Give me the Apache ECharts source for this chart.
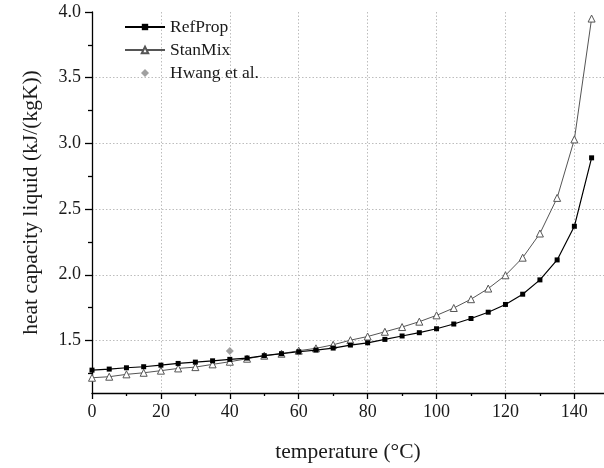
<!DOCTYPE html>
<html>
<head>
<meta charset="utf-8">
<script src="https://cdn.jsdelivr.net/npm/echarts@6/dist/echarts.min.js"></script>
<style>html,body{margin:0;padding:0;background:#fff;}#c{width:604px;height:468px;}</style>
</head>
<body>
<div id="c"></div>
<script>
const temperatures = [0,5,10,15,20,25,30,35,40,45,50,55,60,65,70,75,80,85,90,95,100,105,110,115,120,125,130,135,140,145];
const refProp = [1.274,1.282,1.292,1.300,1.312,1.325,1.335,1.345,1.356,1.366,1.384,1.399,1.414,1.427,1.442,1.465,1.482,1.508,1.534,1.559,1.589,1.625,1.667,1.715,1.774,1.852,1.961,2.113,2.369,2.890];
const stanMix = [1.216,1.224,1.242,1.254,1.270,1.287,1.297,1.318,1.338,1.361,1.384,1.399,1.422,1.440,1.467,1.502,1.530,1.566,1.602,1.643,1.691,1.747,1.814,1.895,1.996,2.130,2.314,2.585,3.030,3.950];
const hwangT = [40];
const hwangCp = [1.42];
const xTicks = [0,20,40,60,80,100,120,140];
const xMinorTicks = [10,30,50,70,90,110,130];
const xGrid = [20,40,60,80,100,120,140];
const yTicks = [1.5,2.0,2.5,3.0,3.5,4.0];
const yMinorTicks = [1.25,1.75,2.25,2.75,3.25,3.75];
const yGrid = [1.5,2.0,2.5,3.0,3.5];

const FONT = 'Liberation Serif';
const X_MIN = 0, X_MAX = 148.6, Y_MIN = 1.1, Y_MAX = 4.0;

const chart = echarts.init(document.getElementById('c'), null, {renderer:'canvas'});
function xAxisBase(extra){ return Object.assign({type:'value', min:X_MIN, max:X_MAX, position:'bottom', gridIndex:0}, extra); }
function yAxisBase(extra){ return Object.assign({type:'value', min:Y_MIN, max:Y_MAX, position:'left', gridIndex:0}, extra); }

chart.setOption({
  animation:false,
  backgroundColor:'#fff',
  grid:{left:92, right:0, top:12, bottom:73, containLabel:false},
  legend:{
    orient:'vertical', left:119, top:13, itemWidth:40, itemHeight:8, itemGap:5,
    symbolKeepAspect:true,
    textStyle:{fontFamily:FONT, fontSize:17.5, color:'#1a1a1a', lineHeight:18},
    data:[{name:'RefProp'},{name:'StanMix'},{name:'Hwang et al.', icon:'path://M4,0L8,4L4,8L0,4Z'}]
  },
  xAxis:[
    xAxisBase({
      name:'temperature (\u00B0C)', nameLocation:'middle', nameGap:48,
      nameTextStyle:{fontFamily:FONT, fontSize:21.5, color:'#1a1a1a'},
      axisLine:{show:true, lineStyle:{color:'#000', width:1.3}},
      axisTick:{show:true, inside:false, length:6, customValues:xTicks, lineStyle:{color:'#000', width:1.3}},
      axisLabel:{show:true, margin:10, customValues:xTicks, fontFamily:FONT, fontSize:18, color:'#1a1a1a'},
      splitLine:{show:false}
    }),
    xAxisBase({
      axisLine:{show:false},
      axisTick:{show:true, inside:false, length:3, customValues:xMinorTicks, lineStyle:{color:'#000', width:1.3}},
      axisLabel:{show:false}, splitLine:{show:false}
    }),
    xAxisBase({
      axisLine:{show:false},
      axisTick:{show:false, customValues:xGrid},
      axisLabel:{show:false},
      splitLine:{show:true, lineStyle:{color:'#bdbdbd', width:1, type:[1.5,2]}}
    })
  ],
  yAxis:[
    yAxisBase({
      name:'heat capacity liquid (kJ/(kgK))', nameLocation:'middle', nameGap:50,
      nameTextStyle:{fontFamily:FONT, fontSize:21.5, color:'#1a1a1a'},
      axisLine:{show:true, lineStyle:{color:'#000', width:1.3}},
      axisTick:{show:true, inside:false, length:7, customValues:yTicks, lineStyle:{color:'#000', width:1.3}},
      axisLabel:{show:true, margin:11, customValues:yTicks, fontFamily:FONT, fontSize:18, color:'#1a1a1a', formatter:v=>v.toFixed(1)},
      splitLine:{show:false}
    }),
    yAxisBase({
      axisLine:{show:false},
      axisTick:{show:true, inside:false, length:4, customValues:yMinorTicks, lineStyle:{color:'#000', width:1.3}},
      axisLabel:{show:false}, splitLine:{show:false}
    }),
    yAxisBase({
      axisLine:{show:false},
      axisTick:{show:false, customValues:yGrid},
      axisLabel:{show:false},
      splitLine:{show:true, lineStyle:{color:'#bdbdbd', width:1, type:[1.5,2]}}
    })
  ],
  series:[
    {
      name:'StanMix', type:'line', xAxisIndex:0, yAxisIndex:0,
      data: temperatures.map((t,i)=>[t, stanMix[i]]),
      symbol:'triangle', symbolSize:7, showAllSymbol:true,
      lineStyle:{color:'#555', width:1},
      itemStyle:{color:'#fff', borderColor:'#555', borderWidth:1},
      z:3
    },
    {
      name:'RefProp', type:'line', xAxisIndex:0, yAxisIndex:0,
      data: temperatures.map((t,i)=>[t, refProp[i]]),
      symbol:'rect', symbolSize:5, showAllSymbol:true,
      lineStyle:{color:'#000', width:1.2},
      itemStyle:{color:'#000'},
      z:4
    },
    {
      name:'Hwang et al.', type:'scatter', xAxisIndex:0, yAxisIndex:0,
      data: hwangT.map((t,i)=>[t, hwangCp[i]]),
      symbol:'diamond', symbolSize:8, symbolKeepAspect:true,
      itemStyle:{color:'#888'},
      z:5
    }
  ]
});
</script>
</body>
</html>
